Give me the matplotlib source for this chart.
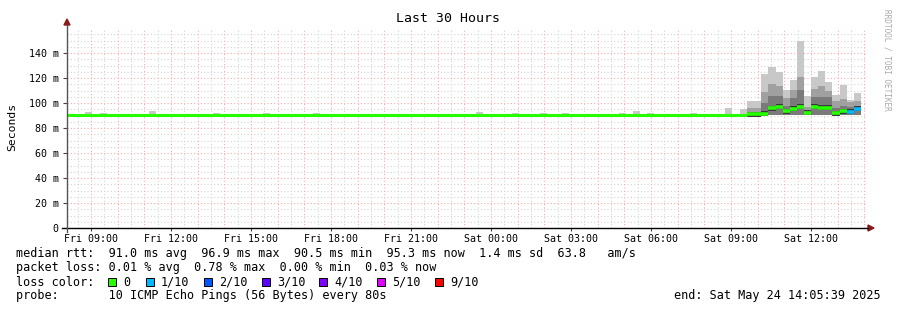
import numpy as np
import matplotlib
matplotlib.use("Agg")
import matplotlib.pyplot as plt
from matplotlib.lines import Line2D
from matplotlib.patches import Polygon, Rectangle

# ---- data (hours counted from Fri 00:00, values in ms) ----
t_start = 8.0942          # Fri 08:05:39
t_end = 38.0942           # Sat 14:05:39
step = 16 / 60.0          # consolidation step

base_median = 90.8
smoke_floor = 90.5

# small smoke blips in the quiet part
blip_t = [8.77, 9.33, 11.17, 13.57, 15.44, 17.32, 23.43, 24.78, 25.83,
          26.66, 28.79, 29.32, 29.84, 31.46, 32.77, 33.33]
blip_top = [92.8, 92.0, 93.6, 92.0, 92.0, 92.0, 92.8, 92.0, 92.0,
            92.0, 92.0, 93.6, 92.0, 92.0, 96.3, 95.2]

# busy part, one entry per step starting at Sat 09:36
busy_t0 = 33.6
busy_top = [101.6, 101.6, 123.2, 128.8, 124.8, 110.4, 118.4, 149.6,
            105.6, 120.8, 125.6, 117.0, 106.4, 114.4, 102.4, 107.7]
busy_mid = [96.0, 96.0, 109.0, 115.2, 113.9, 103.7, 110.4, 121.0,
            96.5, 111.2, 113.6, 109.6, 101.9, 103.0, 101.0, 101.7]
busy_dark = [93.0, 93.0, 99.8, 106.0, 106.0, 98.0, 103.7, 110.4,
             94.0, 104.8, 104.8, 104.8, 96.0, 98.0, 97.0, 98.0]
busy_median = [91.0, 91.0, 91.5, 95.7, 97.1, 93.3, 95.5, 97.1,
               92.3, 97.1, 96.3, 96.3, 91.7, 93.6, 93.1, 95.5]
busy_loss = [0, 0, 0, 0, 0, 0, 0, 0, 0, 0, 0, 0, 0, 0, 1, 1]

loss_labels = ["0", "1/10", "2/10", "3/10", "4/10", "5/10", "9/10"]
loss_colors = ["#26ff00", "#00b8ff", "#0059ff", "#5e00ff", "#7e00ff", "#dd00ff", "#ff0000"]

xtick_pos = [9, 12, 15, 18, 21, 24, 27, 30, 33, 36]
xtick_lab = ["Fri 09:00", "Fri 12:00", "Fri 15:00", "Fri 18:00", "Fri 21:00",
             "Sat 00:00", "Sat 03:00", "Sat 06:00", "Sat 09:00", "Sat 12:00"]
ytick_pos = [0, 20, 40, 60, 80, 100, 120, 140]
ytick_lab = ["0", "20 m", "40 m", "60 m", "80 m", "100 m", "120 m", "140 m"]

legend_lines = [
    "median rtt:  91.0 ms avg  96.9 ms max  90.5 ms min  95.3 ms now  1.4 ms sd  63.8   am/s",
    "packet loss: 0.01 % avg  0.78 % max  0.00 % min  0.03 % now",
    "loss color:",
    "probe:       10 ICMP Echo Pings (56 Bytes) every 80s",
]
end_text = "end: Sat May 24 14:05:39 2025"

mono = "DejaVu Sans Mono"
W, H = 897, 310


def fx(px):
    return px / W


def fy(py):
    return 1 - py / H


fig = plt.figure(figsize=(W / 100, H / 100), dpi=100)
fig.patch.set_facecolor("white")
ax = fig.add_axes([fx(67), fy(228), 800 / W, 200 / H])
ax.set_xlim(t_start, t_end)
ax.set_ylim(0, 160)
for s in ax.spines.values():
    s.set_visible(False)

# grid
minor_c, major_c = "#d4d4d4", "#ffaaaa"
for v in np.arange(5, 160, 5):
    if v % 20 == 0:
        continue
    ax.axhline(v, color=minor_c, lw=0.8, ls=(0, (1, 2)), zorder=0)
for v in np.arange(20, 160, 20):
    ax.axhline(v, color=major_c, lw=0.8, ls=(0, (1, 2)), zorder=0.5)
for h in np.arange(8.5, t_end, 1.0):
    ax.axvline(h, color=minor_c, lw=0.8, ls=(0, (1, 2)), zorder=0)
for h in np.arange(9, t_end, 1.0):
    ax.axvline(h, color=major_c, lw=0.8, ls=(0, (1, 2)), zorder=0.5)

# quiet blips
ax.bar(blip_t, np.array(blip_top) - smoke_floor, bottom=smoke_floor, width=step,
       align="edge", color="#c8c8c8", lw=0, zorder=2)

# busy smoke
bt = busy_t0 + step * np.arange(len(busy_top))
ax.bar(bt, np.array(busy_top) - smoke_floor, bottom=smoke_floor, width=step,
       align="edge", color="#c8c8c8", lw=0, zorder=2)
ax.bar(bt, np.array(busy_mid) - smoke_floor, bottom=smoke_floor, width=step,
       align="edge", color="#a0a0a0", lw=0, zorder=2.1)
ax.bar(bt, np.array(busy_dark) - smoke_floor, bottom=smoke_floor, width=step,
       align="edge", color="#7a7a7a", lw=0, zorder=2.2)
med = np.array(busy_median)
ax.bar(bt, 4.0, bottom=med - 2.0, width=step, align="edge",
       color="#3a3a3a", lw=0, zorder=2.3)

# median line
ax.plot([t_start, busy_t0], [base_median, base_median], color=loss_colors[0],
        lw=2.2, solid_capstyle="butt", zorder=3)
for t, m, l in zip(bt, busy_median, busy_loss):
    ax.plot([t, t + step], [m, m], color=loss_colors[l], lw=2.6,
            solid_capstyle="butt", zorder=3)

# ticks
ax.set_xticks(xtick_pos)
ax.set_xticklabels(xtick_lab, fontfamily=mono, fontsize=7.2)
ax.set_yticks(ytick_pos)
ax.set_yticklabels(ytick_lab, fontfamily=mono, fontsize=7.2)
ax.tick_params(axis="x", length=2, width=0.8, pad=2.5, color="#444444")
ax.tick_params(axis="y", length=3, width=0.8, pad=3, color="#444444")

# axes lines with arrows
fig.add_artist(Line2D([fx(62), fx(868)], [fy(228), fy(228)], color="black", lw=1))
fig.add_artist(Line2D([fx(67), fx(67)], [fy(232), fy(25)], color="#555555", lw=1))
fig.add_artist(Polygon([[fx(868), fy(225)], [fx(874), fy(228)], [fx(868), fy(231)]],
                       closed=True, color="#8b1a1a", transform=fig.transFigure))
fig.add_artist(Polygon([[fx(64), fy(25)], [fx(67), fy(19)], [fx(70), fy(25)]],
                       closed=True, color="#8b1a1a", transform=fig.transFigure))

# titles
fig.text(fx(448), fy(19), "Last 30 Hours", ha="center", va="center",
         fontfamily=mono, fontsize=9.5)
fig.text(fx(12), fy(127), "Seconds", ha="center", va="center", rotation=90,
         fontfamily=mono, fontsize=8.2)
fig.text(fx(887), fy(60), "RRDTOOL / TOBI OETIKER", ha="center", va="center",
         rotation=270, fontfamily=mono, fontsize=5.6, color="#aaaaaa")

# legend
rows_y = [254, 268, 282, 296]
for s, y in zip(legend_lines, rows_y):
    fig.text(fx(16), fy(y), s, ha="left", va="center", fontfamily=mono, fontsize=8.5)
fig.text(fx(881), fy(296), end_text, ha="right", va="center", fontfamily=mono, fontsize=8.5)

sq_x = [108, 146, 204, 262, 319, 377, 435]
for x, lab, col in zip(sq_x, loss_labels, loss_colors):
    fig.add_artist(Rectangle((fx(x), fy(286)), 8 / W, 8 / H, facecolor=col,
                             edgecolor="black", lw=0.7, transform=fig.transFigure))
    fig.text(fx(x + 15), fy(282), lab, ha="left", va="center",
             fontfamily=mono, fontsize=8.5)

fig.savefig("out.png", dpi=100)
